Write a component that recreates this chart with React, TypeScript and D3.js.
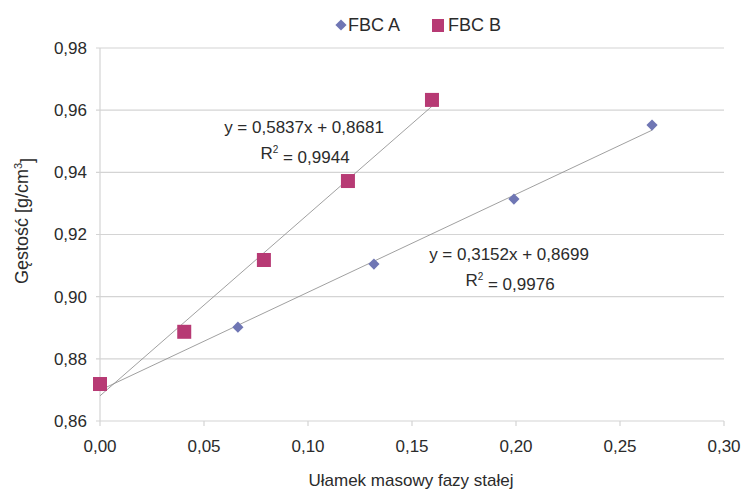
import React from "react";
import * as d3 from "d3";

const seriesA_x = [0.0663, 0.1317, 0.199, 0.2654];
const seriesA_y = [0.8902, 0.9105, 0.9314, 0.9552];
const seriesB_x = [0.0, 0.0405, 0.0788, 0.1192, 0.1596];
const seriesB_y = [0.8719, 0.8887, 0.9118, 0.9372, 0.9633];
const trendA = { slope: 0.3152, intercept: 0.8699, label: "y = 0,3152x + 0,8699", r2: "0,9976" };
const trendB = { slope: 0.5837, intercept: 0.8681, label: "y = 0,5837x + 0,8681", r2: "0,9944" };
const xTicks = [0, 0.05, 0.1, 0.15, 0.2, 0.25, 0.3];
const yTicks = [0.86, 0.88, 0.9, 0.92, 0.94, 0.96, 0.98];
const seriesNames = ["FBC A", "FBC B"];

const W = 742, H = 489;
const colA = "#6f76b4";
const colB = "#b73a74";
const font = "'Liberation Sans', Arial, sans-serif";
const fmt = (v: number, d: number) => v.toFixed(d).replace(".", ",");

export default function App() {
  const x = d3.scaleLinear().domain([0, 0.3]).range([100, 724]);
  const y = d3.scaleLinear().domain([0.86, 0.98]).range([421, 48]);
  const line = d3.line<[number, number]>().x(d => x(d[0])).y(d => y(d[1]));
  const maxA = d3.max(seriesA_x)!;
  const maxB = d3.max(seriesB_x)!;
  const lineA: [number, number][] = [[0, trendA.intercept], [maxA, trendA.intercept + trendA.slope * maxA]];
  const lineB: [number, number][] = [[0, trendB.intercept], [maxB, trendB.intercept + trendB.slope * maxB]];
  const diamond = d3.symbol().type(d3.symbolDiamond2).size(80)()!;
  const fs = 17;
  const tc = "#2b2b2b";
  return (
    <svg width={W} height={H} style={{ position: "absolute", left: 0, top: 0, background: "#fff" }} fontFamily={font}>
      <rect x={0} y={0} width={W} height={H} fill="#fff" />
      {yTicks.map(t => (
        <g key={t}>
          <line x1={x(0) - 4} x2={x(0.3)} y1={y(t)} y2={y(t)} stroke="#d4d4d4" strokeWidth={1.2} />
          <text x={87} y={y(t)} dy="0.35em" textAnchor="end" fontSize={fs} fill={tc}>{fmt(t, 2)}</text>
        </g>
      ))}
      <line x1={x(0)} x2={x(0)} y1={y(0.98)} y2={y(0.86)} stroke="#d4d4d4" strokeWidth={1.2} />
      {xTicks.map(t => (
        <g key={t}>
          <line x1={x(t)} x2={x(t)} y1={y(0.86)} y2={y(0.86) + 5} stroke="#d4d4d4" strokeWidth={1.2} />
          <text x={x(t)} y={446} dy="0.35em" textAnchor="middle" fontSize={fs} fill={tc}>{fmt(t, 2)}</text>
        </g>
      ))}
      <path d={line(lineB)!} stroke="#888" strokeWidth={0.8} fill="none" />
      <path d={line(lineA)!} stroke="#888" strokeWidth={0.8} fill="none" />
      {seriesB_x.map((v, i) => (
        <rect key={i} x={x(v) - 7} y={y(seriesB_y[i]) - 7} width={14} height={14} fill={colB} />
      ))}
      {seriesA_x.map((v, i) => (
        <path key={i} d={diamond} transform={`translate(${x(v)},${y(seriesA_y[i])})`} fill={colA} />
      ))}
      <text x={304} y={127} dy="0.35em" textAnchor="middle" fontSize={fs} fill={tc}>{trendB.label}</text>
      <text x={305} y={153} dy="0.35em" textAnchor="middle" fontSize={fs} fill={tc}>
        R<tspan dy="-0.6em" fontSize={10}>2</tspan><tspan dy="0.6em">{"\u00a0= " + trendB.r2}</tspan>
      </text>
      <text x={509} y={254} dy="0.35em" textAnchor="middle" fontSize={fs} fill={tc}>{trendA.label}</text>
      <text x={510} y={280} dy="0.35em" textAnchor="middle" fontSize={fs} fill={tc}>
        R<tspan dy="-0.6em" fontSize={10}>2</tspan><tspan dy="0.6em">{"\u00a0= " + trendA.r2}</tspan>
      </text>
      <g>
        <path d={diamond} transform="translate(341,25)" fill={colA} />
        <text x={348} y={25} dy="0.35em" fontSize={18} fill={tc}>{seriesNames[0]}</text>
        <rect x={432} y={19} width={12} height={13} fill={colB} />
        <text x={448} y={25} dy="0.35em" fontSize={18} fill={tc}>{seriesNames[1]}</text>
      </g>
      <text transform="translate(22,221) rotate(-90)" textAnchor="middle" dy="0.35em" fontSize={18} fill={tc}>
        Gęstość [g/cm<tspan dy="-0.6em" fontSize={11}>3</tspan><tspan dy="0.6em">]</tspan>
      </text>
      <text x={411} y={486} textAnchor="middle" fontSize={fs} fill={tc}>Ułamek masowy fazy stałej</text>
    </svg>
  );
}
